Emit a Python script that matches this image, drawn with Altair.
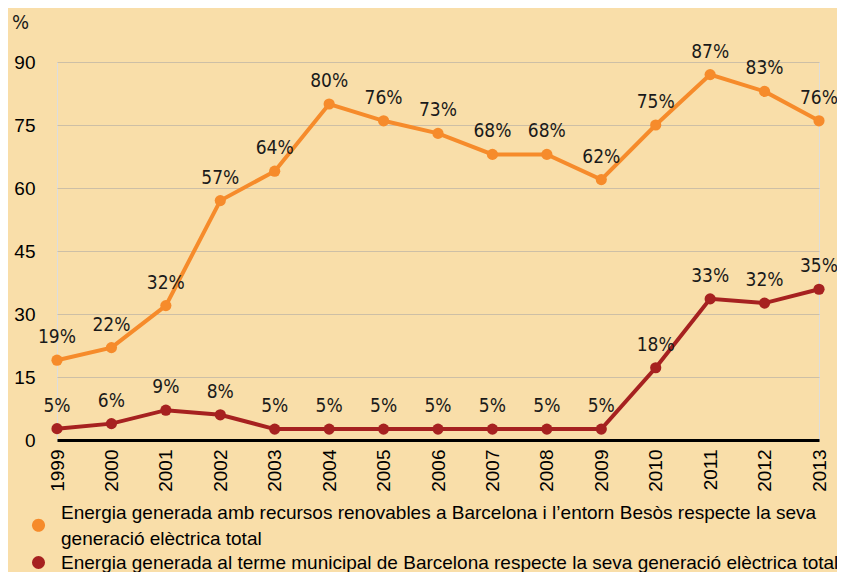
import altair as alt
import pandas as pd

years = [str(y) for y in range(1999, 2014)]
series_names = [
    "Energia generada amb recursos renovables a Barcelona i l’entorn Besòs respecte la seva\ngeneració elèctrica total",
    "Energia generada al terme municipal de Barcelona respecte la seva generació elèctrica total",
]
# values read from the drawn point positions
renov_values = [19, 22, 32, 57, 64, 80, 76, 73, 68, 68, 62, 75, 87, 83, 76]
renov_labels = ["19%", "22%", "32%", "57%", "64%", "80%", "76%", "73%", "68%", "68%", "62%", "75%", "87%", "83%", "76%"]
munic_values = [2.7, 3.9, 7.1, 6.0, 2.6, 2.6, 2.6, 2.6, 2.6, 2.6, 2.6, 17.2, 33.6, 32.6, 35.9]
munic_labels = ["5%", "6%", "9%", "8%", "5%", "5%", "5%", "5%", "5%", "5%", "5%", "18%", "33%", "32%", "35%"]
y_ticks = [0, 15, 30, 45, 60, 75, 90]
colors = ["#F68B2B", "#A62120"]
# legend symbol shapes: the two-line entry's dot sits between its two lines
legend_shapes = ["M-1,1.95A1,1 0 1,0 1,1.95A1,1 0 1,0 -1,1.95Z", "circle"]

rows = []
for s, vals, labs in [(series_names[0], renov_values, renov_labels), (series_names[1], munic_values, munic_labels)]:
    for yr, v, l in zip(years, vals, labs):
        rows.append({"year": yr, "value": v, "label": l, "series": s})
df = pd.DataFrame(rows)

FONT = "DejaVu Sans Condensed, Liberation Sans, sans-serif"

x_enc = alt.X("year:O", scale=alt.Scale(type="point", padding=0),
              axis=alt.Axis(title=None, labelAngle=-90, labelFontSize=19, labelPadding=9,
                            ticks=False, domainColor="#000000", domainWidth=3, grid=False))
y_enc = alt.Y("value:Q", scale=alt.Scale(domain=[0, 90], nice=False, zero=True),
              axis=alt.Axis(values=y_ticks, title="%", titleAngle=0, titleAlign="center",
                            titleBaseline="middle", titleX=-37, titleY=-40, titleFontSize=20,
                            titleFontWeight="normal", titleFont=FONT, titleColor="#1a1a1a",
                            labelFontSize=19, labelPadding=22, ticks=False, domain=False,
                            grid=True, gridColor="#CDBFA6", gridWidth=1))
color_scale = alt.Scale(domain=series_names, range=colors)
shape_scale = alt.Scale(domain=series_names, range=legend_shapes)

legend = alt.Legend(title=None, orient="none", legendX=-28, legendY=441,
                    symbolSize=170, symbolOpacity=1, symbolStrokeWidth=0,
                    labelFontSize=19, labelLimit=900, labelOffset=13,
                    labelExpr="split(datum.label, '\\n')",
                    rowPadding=4, padding=0)

base = alt.Chart(df)

lines = base.mark_line(strokeWidth=4).encode(
    x=x_enc, y=y_enc,
    color=alt.Color("series:N", scale=color_scale, sort=series_names, legend=legend),
)
points = base.mark_circle(size=125, opacity=1).encode(
    x=x_enc, y=y_enc,
    color=alt.Color("series:N", scale=color_scale, sort=series_names, legend=legend),
)
legend_keys = base.mark_point(filled=True, opacity=0).encode(
    x=x_enc, y=y_enc,
    color=alt.Color("series:N", scale=color_scale, sort=series_names, legend=legend),
    shape=alt.Shape("series:N", scale=shape_scale, sort=series_names, legend=legend),
)
texts = base.mark_text(dy=-23, fontSize=19, color="#1a1a1a", font=FONT).encode(
    x=x_enc, y=y_enc, text="label:N",
)

chart = alt.layer(lines, points, legend_keys, texts).properties(
    width=762, height=378,
    background="#F9DEA9",
    padding={"left": 49, "top": 54, "right": 18, "bottom": 132},
    autosize=alt.AutoSizeParams(type="none"),
).configure_view(stroke=None).configure_axis(
    labelFont=FONT, labelColor="#1a1a1a", titleFont=FONT,
).configure_legend(
    labelFont=FONT, labelColor="#1a1a1a",
).configure(
    style={"guide-label": {"lineHeight": 26}},
)

chart.save("out.html", embed_options={"renderer": "svg", "actions": False})
